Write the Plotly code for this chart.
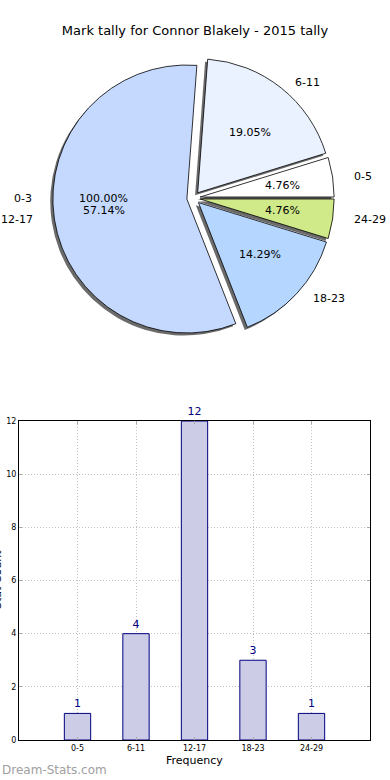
import math
import plotly.graph_objects as go

# ---- data ----
title_text = "Mark tally for Connor Blakely - 2015 tally"
bins = ["0-5", "6-11", "12-17", "18-23", "24-29"]
counts = [1, 4, 12, 3, 1]
pie_colors = ["#ffffff", "#eaf1ff", "#c5d9ff", "#b5d6ff", "#d0ea8a"]
ghost_label = "0-3"
ghost_pct = "100.00%"
x_title = "Frequency"
y_title = "Stat Count"
watermark = "Dream-Stats.com"
y_ticks = [0, 2, 4, 6, 8, 10, 12]

W, H = 390, 780
FONT = "DejaVu Sans"

def px_x(p):
    return p / W

def px_y(p):
    return 1 - p / H

# pie geometry (pixels)
cx, cy, r, pull = 193.5, 198, 134, 0.05
rx_txt, ry_txt = 139, 128          # text scale of the original (slightly elliptical) pie
pct_dist, lab_dist = 0.6, 1.1
half = r * (1 + pull)
dom_x = [px_x(cx - half), px_x(cx + half)]
dom_y = [px_y(cy + half), px_y(cy - half)]
sh = 2.6
shadow_x = [px_x(cx - half - sh), px_x(cx + half - sh)]
shadow_y = [px_y(cy + half + sh), px_y(cy - half + sh)]

# hidden text axes covering the top part of the figure
tx_top, tx_bot = 45, 355
txt_dom_y = [px_y(tx_bot), px_y(tx_top)]
txt_rng_x = [(0 - cx) / rx_txt, (W - cx) / rx_txt]
txt_rng_y = [(cy - tx_bot) / ry_txt, (cy - tx_top) / ry_txt]

total = sum(counts)
# first slice starts at 3 o'clock, going counterclockwise
rot = 90 - 360 * counts[0] / total

fig = go.Figure()

common = dict(labels=bins, values=counts, sort=False, direction="counterclockwise",
              rotation=rot, pull=[pull] * len(bins), showlegend=False,
              textinfo="none", hoverinfo="label+value+percent")

# shadow
fig.add_trace(go.Pie(
    domain=dict(x=shadow_x, y=shadow_y),
    marker=dict(colors=["rgba(70,70,70,0.8)"] * len(bins), line=dict(width=0)),
    **common,
))
# main pie
fig.add_trace(go.Pie(
    domain=dict(x=dom_x, y=dom_y),
    marker=dict(colors=pie_colors, line=dict(color="#000000", width=0.8)),
    **common,
))

# hidden axes over the pie, for the slice texts
fig.add_trace(go.Scatter(x=[], y=[], xaxis="x2", yaxis="y2", showlegend=False))

annotations = []
cum = 0
for lab, v in zip(bins, counts):
    mid = math.radians(360 * (cum + v / 2) / total)
    cum += v
    c, s = math.cos(mid), math.sin(mid)
    annotations.append(dict(
        text=f"{100 * v / total:.2f}%", xref="x2", yref="y2",
        x=(pull + pct_dist) * c, y=(pull + pct_dist) * s,
        xanchor="center", yanchor="middle", showarrow=False,
        font=dict(family=FONT, size=11, color="#000000")))
    annotations.append(dict(
        text=lab, xref="x2", yref="y2",
        x=(pull + lab_dist) * c, y=(pull + lab_dist) * s,
        xanchor="left" if c > 0 else "right", yanchor="middle", showarrow=False,
        font=dict(family=FONT, size=11, color="#000000")))
# the stray zero-size entry of the original chart (drawn at 9 o'clock)
annotations.append(dict(
    text=ghost_label, xref="x2", yref="y2", x=-(pull + lab_dist), y=0,
    xanchor="right", yanchor="middle", showarrow=False,
    font=dict(family=FONT, size=11, color="#000000")))
annotations.append(dict(
    text=ghost_pct, xref="x2", yref="y2", x=-(pull + pct_dist), y=0,
    xanchor="center", yanchor="middle", showarrow=False,
    font=dict(family=FONT, size=11, color="#000000")))

# bar chart
fig.add_trace(go.Bar(
    x=list(range(len(bins))), y=counts, width=0.45,
    marker=dict(color="#ccccE6", line=dict(color="#000080", width=1)),
    text=[str(c) for c in counts], textposition="outside",
    textfont=dict(family=FONT, size=11, color="#000080"),
    cliponaxis=False, showlegend=False, xaxis="x", yaxis="y",
))

axis_common = dict(
    tickfont=dict(family=FONT, size=8, color="#000000"),
    showline=True, linecolor="#000000", linewidth=1, mirror="ticks",
    ticks="inside", ticklen=3, tickcolor="#aaaaaa",
    showgrid=True, gridcolor="#c0c0c0", griddash="1px,2px", gridwidth=1,
    zeroline=False, fixedrange=True, automargin=False,
)

annotations += [
    dict(text=x_title, xref="paper", yref="paper", x=px_x(194), y=px_y(760),
         xanchor="center", yanchor="middle", showarrow=False,
         font=dict(family=FONT, size=11, color="#000000")),
    dict(text=y_title, xref="paper", yref="paper", x=px_x(-3), y=px_y(580),
         xanchor="center", yanchor="middle", textangle=-90, showarrow=False,
         font=dict(family=FONT, size=11, color="#000000")),
    dict(text=watermark, xref="paper", yref="paper", x=0, y=px_y(770),
         xanchor="left", yanchor="middle", showarrow=False,
         font=dict(family=FONT, size=12, color="#a0a0a0")),
]

fig.update_layout(
    width=W, height=H,
    margin=dict(l=0, r=0, t=0, b=0),
    paper_bgcolor="white", plot_bgcolor="white",
    font=dict(family=FONT, color="#000000"),
    title=dict(text=title_text, x=px_x(195), xanchor="center", y=px_y(30), yanchor="middle",
               font=dict(family=FONT, size=13, color="#000000")),
    xaxis=dict(
        domain=[px_x(19), px_x(370)], range=[-1, 5],
        tickmode="array", tickvals=list(range(len(bins))), ticktext=bins,
        anchor="y", **axis_common,
    ),
    yaxis=dict(
        domain=[px_y(740), px_y(421)], range=[0, 12],
        tickmode="array", tickvals=y_ticks,
        anchor="x", **axis_common,
    ),
    xaxis2=dict(domain=[0, 1], range=txt_rng_x, visible=False,
                fixedrange=True, anchor="y2"),
    yaxis2=dict(domain=txt_dom_y, range=txt_rng_y, visible=False,
                fixedrange=True, anchor="x2"),
    annotations=annotations,
)

fig.write_html("out.html", config={"displayModeBar": False},
               post_script="document.body.style.margin='0px';")
